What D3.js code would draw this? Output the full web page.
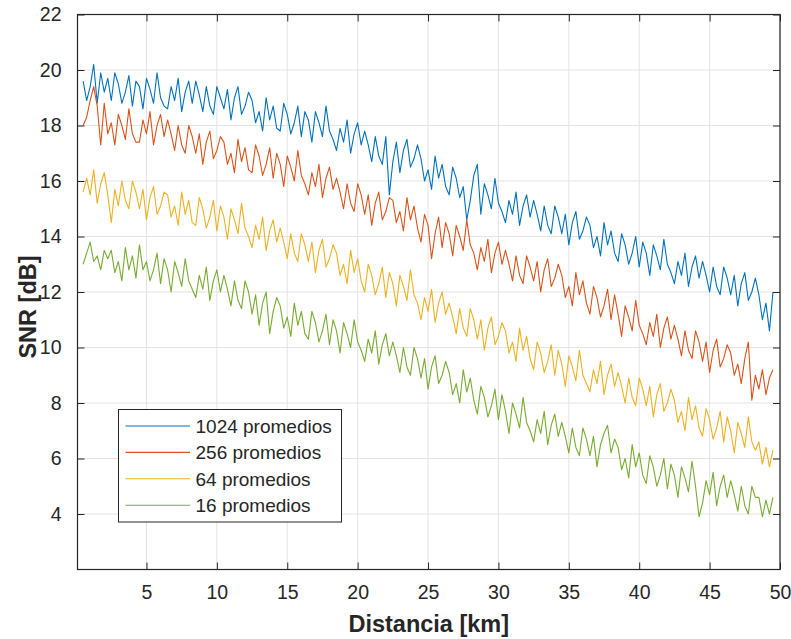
<!DOCTYPE html>
<html>
<head>
<meta charset="utf-8" />
<title>SNR vs distancia</title>
<style>
body { margin: 0; background: #fff; }
svg text { font-family: "Liberation Sans", Arial, Helvetica, sans-serif; fill: #262626; }
</style>
</head>
<body>
<div id="graph"></div>
<script src="https://d3js.org/d3.v7.min.js"></script>
<script>

// distance samples start at 0.5 km, every 0.25 km
var kmStart = 0.5, kmStep = 0.25;

var seriesNames = ["1024 promedios", "256 promedios", "64 promedios", "16 promedios"];
var seriesColors = ["#0072BD", "#D95319", "#EDB120", "#77AC30"];

var xTicks = [5, 10, 15, 20, 25, 30, 35, 40, 45, 50];
var yTicks = [4, 6, 8, 10, 12, 14, 16, 18, 20, 22];

// values (dB)
var snr1024 = [
19.6,18.9,19.4,20.2,18.8,19.9,19.2,19.7,
18.9,19.9,19.5,18.8,19.2,19.8,18.7,19.6,
19.4,18.6,19.7,19.3,18.8,19.9,19.0,18.7,
18.6,19.4,18.9,19.7,18.5,19.2,19.6,18.8,
19.6,19.1,18.5,19.4,18.7,18.4,19.4,19.0,
18.6,19.3,18.2,19.0,19.4,18.4,18.7,19.2,
18.9,18.1,18.5,17.8,19.0,18.2,18.7,17.9,
17.8,18.8,18.4,17.7,18.1,18.7,17.6,18.5,
18.2,17.4,18.5,18.1,17.6,18.7,17.8,17.5,
17.1,17.9,17.4,18.2,17.0,17.7,18.1,17.3,
17.8,17.3,16.7,17.6,16.9,16.6,17.6,15.5,
16.7,17.4,16.3,17.1,17.5,16.5,16.8,17.3,
16.8,16.0,16.4,15.7,16.9,16.1,16.6,15.8,
15.5,16.5,16.1,15.4,15.8,14.6,15.3,16.2,
16.6,14.8,15.9,15.5,15.0,16.1,15.2,14.9,
14.5,15.3,14.8,15.6,14.4,15.1,15.5,14.7,
15.3,14.8,14.2,15.1,14.4,14.1,15.1,14.7,
14.1,14.8,13.7,14.5,14.9,13.9,14.2,14.7,
14.4,13.6,14.0,13.3,14.5,13.7,14.2,13.4,
13.1,14.1,13.7,13.0,13.4,14.0,12.9,13.8,
13.4,12.6,13.7,13.3,12.8,13.9,13.0,12.7,
12.3,13.1,12.6,13.4,12.2,12.9,13.3,12.5,
13.1,12.6,12.0,12.9,12.2,11.9,12.9,12.5,
11.9,12.6,11.5,12.3,12.7,11.7,12.0,12.5,
11.9,11.0,11.6,10.6,12.0
];

var snr256 = [
18.0,18.3,18.9,19.4,18.7,17.3,18.8,17.7,
18.1,17.3,18.4,18.0,17.5,18.6,17.7,17.4,
17.4,18.2,17.7,18.5,17.3,18.0,18.4,17.6,
18.2,17.7,17.1,18.0,17.3,17.0,18.0,17.6,
17.0,17.7,16.6,17.4,17.8,16.8,17.1,17.6,
17.4,16.6,17.0,16.3,17.5,16.7,17.2,16.4,
16.3,17.3,16.9,16.2,16.6,17.2,16.1,17.0,
16.6,15.8,16.9,16.5,16.0,17.1,16.2,15.9,
15.5,16.3,15.8,16.6,15.4,16.1,16.5,15.7,
16.1,15.6,15.0,15.9,15.2,14.9,15.9,15.5,
14.8,15.5,14.4,15.2,15.6,14.6,14.9,15.4,
15.3,14.5,14.9,14.2,15.4,14.6,15.1,14.3,
13.8,14.8,14.4,13.2,14.1,14.7,13.6,14.5,
14.1,13.3,14.4,14.0,13.5,14.6,13.7,13.4,
12.8,13.6,13.1,13.9,12.7,13.4,13.8,13.0,
13.5,13.0,12.4,13.3,12.6,12.3,13.3,12.9,
12.4,13.1,12.0,12.8,13.2,12.2,12.5,13.0,
12.6,11.8,12.2,11.5,12.7,11.9,12.4,11.6,
11.2,12.2,11.8,11.1,11.5,12.1,11.0,11.9,
11.2,10.4,11.5,11.1,10.6,11.7,10.8,10.5,
10.1,10.9,10.4,11.2,10.0,10.7,11.1,10.3,
10.8,10.3,9.7,10.6,9.9,9.6,10.6,10.2,
9.5,10.2,9.1,9.9,10.3,9.3,9.6,10.1,
9.8,9.0,9.4,8.7,9.6,10.2,8.1,9.0,
8.5,9.2,8.3,8.9,9.2
];

var snr64 = [
15.6,16.1,15.5,16.4,15.2,15.9,16.3,15.5,
14.5,15.7,15.1,16.0,15.3,15.0,16.0,15.6,
15.0,15.7,14.6,15.4,15.8,14.8,15.1,15.6,
15.5,14.7,15.1,14.4,15.6,14.8,15.3,14.5,
14.4,15.4,15.0,14.3,14.7,15.3,14.2,15.1,
14.7,13.9,15.0,14.6,14.1,15.2,14.3,14.0,
13.6,14.4,13.9,14.7,13.5,14.2,14.6,13.8,
14.3,13.8,13.2,14.1,13.4,13.1,14.1,13.7,
13.1,13.8,12.7,13.5,13.9,12.9,13.2,13.7,
13.4,12.6,13.0,12.3,13.5,12.7,13.2,12.4,
12.0,13.0,12.6,11.9,12.3,12.9,11.8,12.7,
12.3,11.5,12.6,12.2,11.7,12.8,11.9,11.6,
11.0,11.8,11.3,12.1,10.9,11.6,12.0,11.2,
11.6,11.1,10.5,11.4,10.7,10.4,11.4,11.0,
10.3,11.0,9.9,10.7,11.1,10.1,10.4,10.9,
10.6,9.8,10.2,9.5,10.7,9.9,10.4,9.6,
9.2,10.2,9.8,9.1,9.5,10.1,9.0,9.9,
9.4,8.6,9.7,9.3,8.8,9.9,9.0,8.7,
8.4,9.2,8.7,9.5,8.3,9.0,9.4,8.6,
9.1,8.6,8.0,8.9,8.2,7.9,8.9,8.5,
7.9,8.6,7.5,8.3,8.7,7.7,8.0,8.5,
8.1,7.3,7.7,7.0,8.2,7.4,7.9,7.1,
6.8,7.8,7.4,6.7,7.1,7.7,6.6,7.5,
7.0,6.2,7.3,6.9,6.4,7.5,6.6,6.3,
6.6,5.8,6.4,5.7,6.3
];

var snr16 = [
13.0,13.4,13.8,13.1,13.3,12.8,13.5,13.2,
13.5,12.7,13.1,12.4,13.6,12.8,13.3,12.5,
13.7,12.8,13.1,12.4,12.8,13.4,12.3,13.2,
12.8,12.0,13.1,12.7,12.2,13.2,12.4,12.1,
11.8,12.6,12.1,12.9,11.7,12.4,12.8,12.0,
12.6,12.1,11.5,12.4,11.7,11.4,12.4,12.0,
11.2,11.9,10.8,11.6,12.0,10.5,11.3,11.8,
11.5,10.7,11.1,10.4,11.6,10.8,11.3,10.5,
10.3,11.3,10.9,10.2,10.6,11.2,10.1,11.0,
10.6,9.8,10.9,10.5,10.0,11.0,10.2,9.9,
9.5,10.3,9.8,10.6,9.4,10.1,10.5,9.7,
10.2,9.7,9.1,10.0,9.3,9.0,10.0,9.6,
8.9,9.6,8.5,9.3,9.7,8.7,9.0,9.5,
9.1,8.3,8.7,8.0,9.2,8.4,8.9,8.1,
7.6,8.6,8.2,7.5,7.9,8.5,7.4,8.3,
7.7,6.9,8.0,7.6,7.1,8.2,7.3,7.0,
6.6,7.4,6.9,7.7,6.5,7.2,7.6,6.8,
7.3,6.8,6.2,7.1,6.4,6.1,7.1,6.7,
6.1,6.8,5.7,6.5,6.9,7.2,6.2,6.7,
6.4,5.6,6.0,5.3,6.5,5.7,6.2,5.4,
5.1,6.1,5.7,5.0,5.4,6.0,4.9,5.8,
5.4,4.6,5.7,5.3,4.8,5.9,5.0,3.9,
4.4,5.2,4.7,5.5,4.3,5.0,5.4,4.6,
5.2,4.7,4.1,5.0,4.3,4.0,5.0,4.6,
4.6,3.9,4.5,4.0,4.6
];

var seriesValues = [snr1024, snr256, snr64, snr16];

var width = 791, height = 639;
var margin = {top: 14.5, right: 11, bottom: 69.5, left: 77.5};
var plotW = width - margin.left - margin.right;
var plotH = height - margin.top - margin.bottom;

var svg = d3.select("#graph").append("svg")
    .attr("width", width)
    .attr("height", height);

var x = d3.scaleLinear().domain([0.1, 50]).range([0, plotW]);
var y = d3.scaleLinear().domain([2, 22]).range([plotH, 0]);

var g = svg.append("g")
    .attr("transform", "translate(" + margin.left + "," + margin.top + ")");

// grid
g.append("g").selectAll("line").data(xTicks).enter().append("line")
    .attr("x1", d => x(d)).attr("x2", d => x(d))
    .attr("y1", 0).attr("y2", plotH)
    .attr("stroke", "#e3e3e3").attr("stroke-width", 1);
g.append("g").selectAll("line").data(yTicks).enter().append("line")
    .attr("x1", 0).attr("x2", plotW)
    .attr("y1", d => y(d)).attr("y2", d => y(d))
    .attr("stroke", "#e3e3e3").attr("stroke-width", 1);

svg.append("clipPath").attr("id", "clip")
    .append("rect").attr("width", plotW).attr("height", plotH);

var line = d3.line()
    .x((d, i) => x(kmStart + i * kmStep))
    .y(d => y(d));

g.append("g").attr("clip-path", "url(#clip)")
    .selectAll("path")
    .data(seriesValues)
    .enter().append("path")
    .attr("d", d => line(d))
    .attr("fill", "none")
    .attr("stroke", (d, i) => seriesColors[i])
    .attr("stroke-width", 1.1)
    .attr("stroke-linejoin", "round");

// axes (MATLAB style, ticks inside, box on)
var axisColor = "#262626";
function styleAxis(sel) {
    sel.select(".domain").remove();
    sel.selectAll(".tick line").attr("stroke", axisColor).attr("stroke-width", 1);
    sel.selectAll(".tick text").attr("fill", axisColor).style("font-size", "19.5px");
}

g.append("g")
    .attr("transform", "translate(0," + plotH + ")")
    .call(d3.axisBottom(x).tickValues(xTicks).tickSize(-7).tickPadding(16))
    .call(styleAxis);
g.append("g")
    .call(d3.axisTop(x).tickValues(xTicks).tickSize(-7).tickFormat(""))
    .call(styleAxis);
g.append("g")
    .call(d3.axisLeft(y).tickValues(yTicks).tickSize(-7).tickPadding(16))
    .call(styleAxis);
g.append("g")
    .attr("transform", "translate(" + plotW + ",0)")
    .call(d3.axisRight(y).tickValues(yTicks).tickSize(-7).tickFormat(""))
    .call(styleAxis);

g.append("rect")
    .attr("width", plotW).attr("height", plotH)
    .attr("fill", "none")
    .attr("stroke", axisColor).attr("stroke-width", 1.2);

// axis labels
svg.append("text")
    .attr("x", margin.left + plotW / 2)
    .attr("y", 632)
    .attr("text-anchor", "middle")
    .style("font-size", "23.5px")
    .style("font-weight", "bold")
    .text("Distancia [km]");

svg.append("text")
    .attr("transform", "translate(36," + (margin.top + plotH / 2 + 15) + ") rotate(-90)")
    .attr("text-anchor", "middle")
    .style("font-size", "23.5px")
    .style("font-weight", "bold")
    .text("SNR [dB]");

// legend
var legend = svg.append("g").attr("transform", "translate(118.5,409.5)");
legend.append("rect")
    .attr("width", 223).attr("height", 112.5)
    .attr("fill", "#fff")
    .attr("stroke", axisColor).attr("stroke-width", 1);

var keys = legend.selectAll(".key")
    .data(seriesNames)
    .enter().append("g")
    .attr("class", "key")
    .attr("transform", (d, i) => "translate(0," + (16.5 + i * 26.4) + ")");

keys.append("line")
    .attr("x1", 7).attr("x2", 71.5)
    .attr("stroke", (d, i) => seriesColors[i])
    .attr("stroke-width", 1.1);

keys.append("text")
    .attr("x", 77)
    .attr("y", 6.8)
    .style("font-size", "19px")
    .text(d => d);

</script>
</body>
</html>
